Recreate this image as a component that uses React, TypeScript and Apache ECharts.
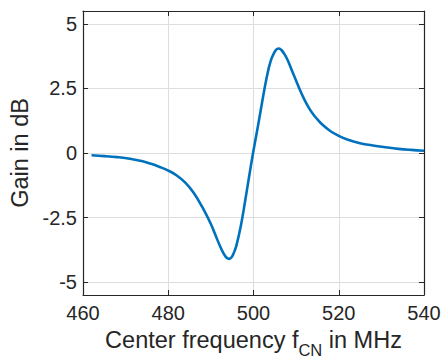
import React, { useEffect, useRef } from "react";
import * as echarts from "echarts";

const freqMHz = [
  462, 465, 468, 471, 474, 476, 478, 480, 482, 484, 486, 488, 490, 491, 492, 493,
  493.7, 494.3, 494.9, 495.5, 496, 497, 498, 499, 500, 501, 502, 503, 504, 505, 505.5,
  506, 506.6, 507.3, 508, 509, 510, 511, 512, 513, 514, 515, 516, 518, 520, 522, 525,
  528, 531, 534, 537, 540,
];
const gainDb = [
  -0.09, -0.12, -0.16, -0.22, -0.32, -0.42, -0.54, -0.68, -0.87, -1.15, -1.55, -2.1,
  -2.75, -3.15, -3.55, -3.9, -4.06, -4.1, -4.03, -3.82, -3.58, -2.85, -1.9, -0.88, 0.1,
  1.0, 1.95, 2.85, 3.55, 3.93, 4.03, 4.05, 3.98, 3.82, 3.6, 3.2, 2.8, 2.4, 2.05, 1.75,
  1.5, 1.3, 1.12, 0.85, 0.66, 0.52, 0.38, 0.29, 0.22, 0.16, 0.12, 0.09,
];
const xTicks = [460, 480, 500, 520, 540];
const yTicks = [-5, -2.5, 0, 2.5, 5];
const yRange = [-5.5, 5.5];

const FONT = "Liberation Sans, Arial, sans-serif";
const AX = "#262626";

export default function App() {
  const ref = useRef<HTMLDivElement>(null);
  useEffect(() => {
    document.body.style.margin = "0";
    const chart = echarts.init(ref.current!, null, { renderer: "svg" });
    const data = freqMHz.map((f, i) => [f, gainDb[i]]);
    const common = {
      axisLine: { show: true, onZero: false, lineStyle: { color: AX, width: 1.2 } },
      axisTick: { show: true, inside: true, length: 5, lineStyle: { color: AX } },
    };
    chart.setOption({
      animation: false,
      textStyle: { fontFamily: FONT },
      grid: {
        left: 83,
        right: 20,
        top: 11,
        bottom: 63,
        containLabel: false,
        outerBoundsMode: "none",
      },
      xAxis: [
        {
          type: "value",
          min: xTicks[0],
          max: xTicks[xTicks.length - 1],
          interval: 20,
          position: "bottom",
          ...common,
          axisLabel: { color: AX, fontSize: 20, fontFamily: FONT, margin: 8 },
          splitLine: { show: true, lineStyle: { color: "#dedede", width: 1 } },
          name: "{a|Center frequency f}{sub|CN}{a| in MHz}",
          nameLocation: "middle",
          nameGap: 28,
          nameTextStyle: {
            color: AX,
            fontFamily: FONT,
            fontSize: 23.5,
            rich: {
              a: { fontSize: 23.5, fontFamily: FONT, color: AX, verticalAlign: "top", lineHeight: 26 },
              sub: { fontSize: 16.5, fontFamily: FONT, color: AX, verticalAlign: "top", lineHeight: 18, padding: [14, 0, 0, 0] },
            },
          },
        },
        {
          type: "value",
          min: xTicks[0],
          max: xTicks[xTicks.length - 1],
          interval: 20,
          position: "top",
          ...common,
          axisLabel: { show: false },
          splitLine: { show: false },
        },
      ],
      yAxis: [
        {
          type: "value",
          min: yRange[0],
          max: yRange[1],
          position: "left",
          ...common,
          axisTick: { ...common.axisTick, customValues: yTicks },
          axisLabel: {
            color: AX,
            fontSize: 20,
            fontFamily: FONT,
            margin: 6,
            customValues: yTicks,
            formatter: (v: number) => String(v),
          },
          splitLine: { show: true, lineStyle: { color: "#dedede", width: 1 } },
          name: "Gain in dB",
          nameLocation: "middle",
          nameGap: 37,
          nameTextStyle: { color: AX, fontSize: 23.5, fontFamily: FONT },
        },
        {
          type: "value",
          min: yRange[0],
          max: yRange[1],
          position: "right",
          ...common,
          axisTick: { ...common.axisTick, customValues: yTicks },
          axisLabel: { show: false, customValues: yTicks },
          splitLine: { show: false },
        },
      ],
      series: [
        {
          type: "line",
          data,
          xAxisIndex: 0,
          yAxisIndex: 0,
          showSymbol: false,
          smooth: 0.4,
          lineStyle: { color: "#0072BD", width: 2.6 },
        },
      ],
    });
    return () => chart.dispose();
  }, []);
  return <div ref={ref} style={{ width: 444, height: 358 }} />;
}
